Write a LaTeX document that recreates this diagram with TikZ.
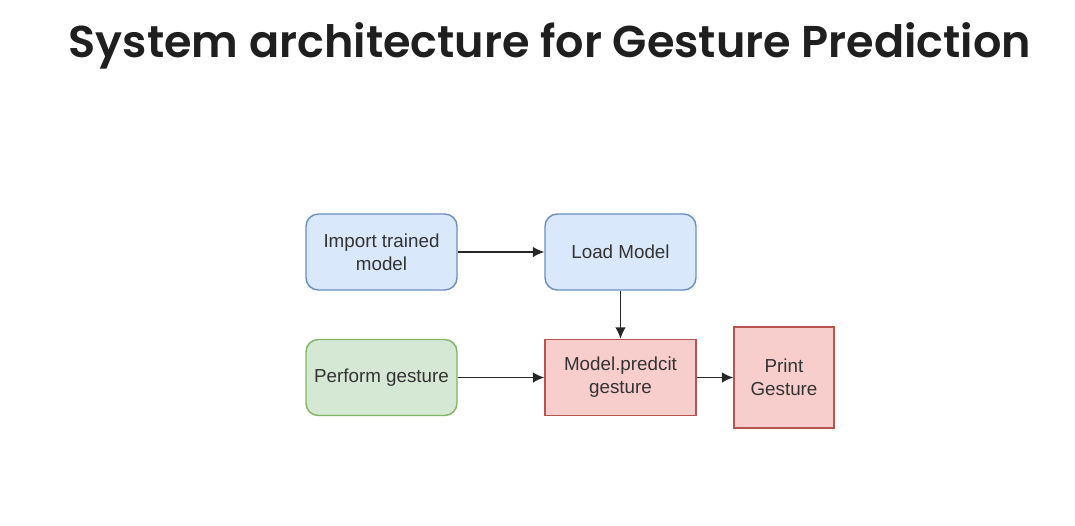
\documentclass[tikz,border=0pt]{standalone}
\usepackage{fontspec}
\usetikzlibrary{arrows.meta}
\setmainfont{Liberation Sans}
\newfontfamily\titlefont{Poppins SemiBold}

\tikzset{
    blockbase/.style={draw, line width=0.8pt, minimum width=3.02cm, minimum height=1.52cm, align=center, font=\fontsize{10.7}{13}\selectfont, text=black!80},
    bluebox/.style={blockbase, rounded corners=7pt, fill={rgb,255:red,218;green,232;blue,252}, draw={rgb,255:red,108;green,142;blue,191}},
    greenbox/.style={blockbase, rounded corners=7pt, fill={rgb,255:red,213;green,232;blue,212}, draw={rgb,255:red,130;green,179;blue,102}},
    redbox/.style={blockbase, fill={rgb,255:red,248;green,206;blue,204}, draw={rgb,255:red,184;green,84;blue,80}},
    flow/.style={-{Latex[length=6.5pt, width=6pt]}, line width=0.85pt, draw=black!85}
}

\begin{document}
\begin{tikzpicture}

    \useasboundingbox[fill=white] (0, 0) rectangle (21.5, -10.5);

    % titre
    \node[font=\titlefont\fontsize{25.35}{30}\selectfont, text=black!88] (title) at (11.0, -0.92) {System architecture for Gesture Prediction};

    \node[bluebox] (import) at (7.63, -5.04) {Import trained\\model};
    \node[bluebox] (load) at (12.41, -5.04) {Load Model};
    \node[greenbox] (perform) at (7.63, -7.55) {Perform gesture};
    \node[redbox] (predict) at (12.41, -7.55) {Model.predcit\\gesture};
    \node[redbox, minimum width=2.0cm, minimum height=2.02cm] (print) at (15.68, -7.55) {Print\\Gesture};

    % fleches
    \draw[flow] (import) -- (load);
    \draw[flow] (load) -- (predict);
    \draw[flow] (perform) -- (predict);
    \draw[flow] (predict) -- (print);

\end{tikzpicture}
\end{document}
